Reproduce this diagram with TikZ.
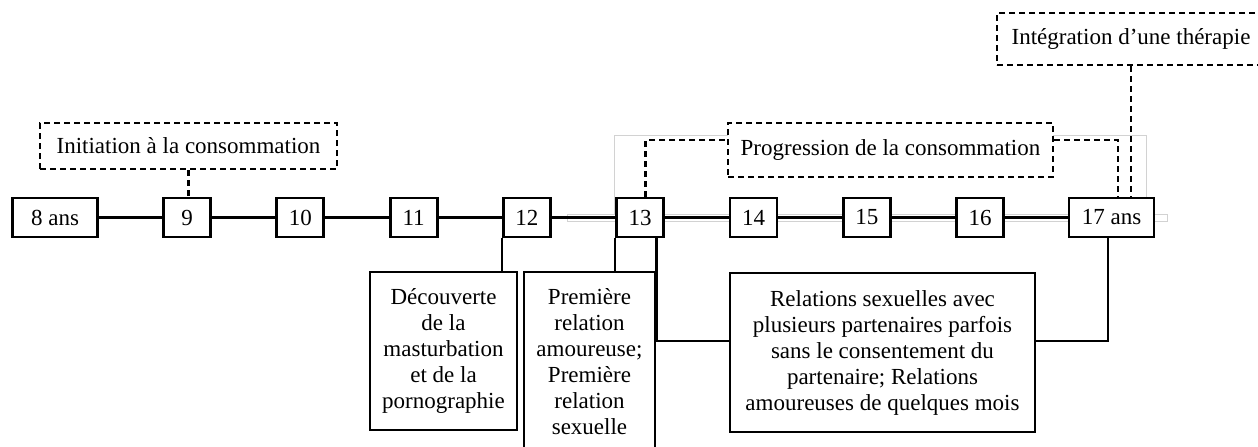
\documentclass[tikz,border=0pt]{standalone}
\usepackage{fontspec}
\setmainfont{Liberation Serif}
\begin{document}
\begin{tikzpicture}[x=0.5pt, y=-0.5pt,
    every node/.style={font=\fontsize{11.5}{13}\selectfont},
    yearbox/.style={draw, line width=1.4pt, fill=white, inner sep=0pt,
        minimum width=23.5pt, minimum height=19.5pt},
    ansbox/.style={yearbox, minimum width=42.5pt},
    eventbox/.style={draw, line width=1.4pt, fill=white, align=center, inner sep=0pt},
    phasebox/.style={draw, line width=1.3pt, dash pattern=on 3pt off 2pt,
        fill=white, inner sep=0pt},
    link/.style={line width=1.1pt},
    phaselink/.style={line width=1.3pt, dash pattern=on 3pt off 2pt},
    ghost/.style={gray!35, line width=0.4pt}]
    \useasboundingbox (0,0) rectangle (1258,446);
    \clip (0,0) rectangle (1258,446);

    % Faint frame left behind in the source
    \draw[ghost] (567,214) rectangle (1167,221);
    \draw[ghost] (614,214) -- (614,135) -- (1146,135) -- (1146,198);

    % Timeline: ages
    \node[ansbox] (y8) at (55,217.5) {8 ans};
    \foreach \n [count=\i from 0] in {9,...,16} {
        \node[yearbox] (y\n) at ({187+113.3*\i},217.5) {\n};
    }
    \node[ansbox] (y17) at (1111.5,217.5) {17 ans};
    \foreach \a/\b in {8/9, 9/10, 10/11, 11/12, 12/13, 13/14, 14/15, 15/16, 16/17} {
        \draw[link] (y\a) -- (y\b);
    }

    % Phases (dashed)
    \node[phasebox, minimum width=148.5pt, minimum height=23pt] (init) at (188.5,146)
        {Initiation à la consommation};
    \node[phasebox, minimum width=162.5pt, minimum height=27pt] (prog) at (890.5,150)
        {Progression de la consommation};
    \node[phasebox, minimum width=134pt, minimum height=26pt] (integ) at (1131,39)
        {Intégration d’une thérapie};

    \draw[phaselink] (init.south) -- (init.south |- y9.north);
    \draw[phaselink] ([xshift=2.75pt]y13.north) |- ([yshift=5pt]prog.west);
    \draw[phaselink] ([yshift=5pt]prog.east) -| ([xshift=3.25pt]y17.north);
    \draw[phaselink] (integ.south) -- (integ.south |- y17.north);

    % Events
    \node[eventbox, minimum width=73.5pt, minimum height=79pt] (disc) at (443.5,351)
        {Découverte\\de la\\masturbation\\et de la\\pornographie};
    \node[eventbox, minimum width=65.5pt, minimum height=90pt] (prem) at (589.5,362)
        {Première\\relation\\amoureuse;\\Première\\relation\\sexuelle};
    \node[eventbox, minimum width=152.5pt, minimum height=79.5pt] (rel) at (882.5,352.5)
        {Relations sexuelles avec\\plusieurs partenaires parfois\\sans le consentement du\\partenaire; Relations\\amoureuses de quelques mois};

    \draw[link] (y12.south west) -- (y12.south west |- disc.north);
    \draw[link] (y13.south west) -- (y13.south west |- prem.north);
    \coordinate (relin) at ([yshift=5.75pt]rel.west);
    \coordinate (relout) at ([yshift=5.75pt]rel.east);
    \draw[link] (y13.south -| prem.east) |- (relin);
    \draw[link] (relout) -| ([xshift=-1.75pt]y17.south);
\end{tikzpicture}
\end{document}
